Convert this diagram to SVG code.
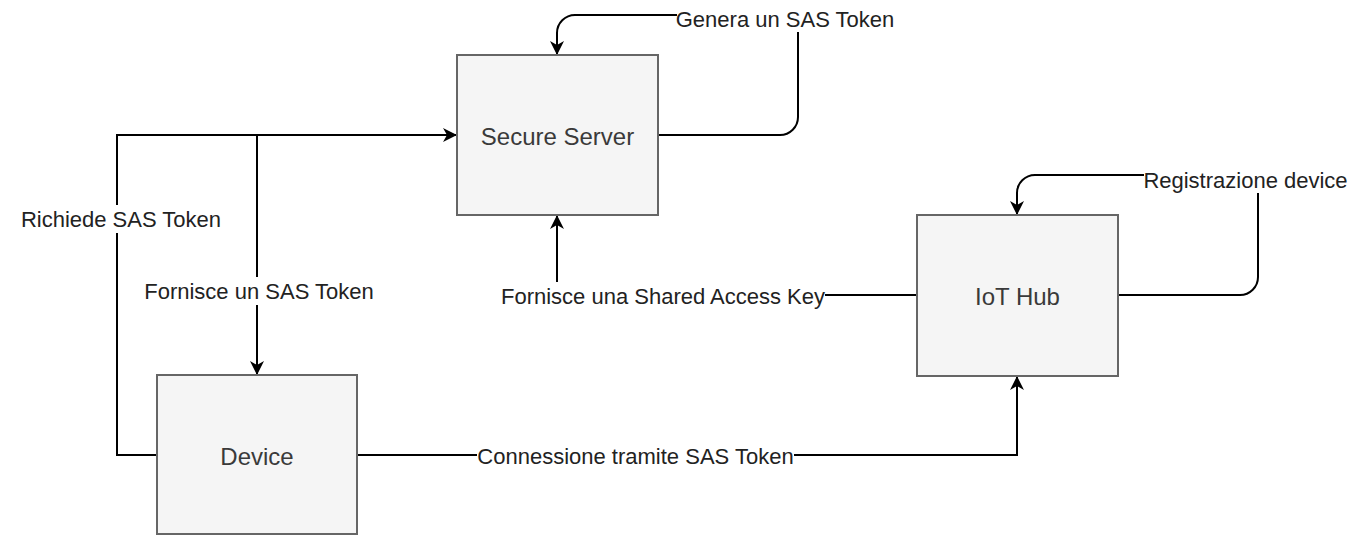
<svg xmlns="http://www.w3.org/2000/svg" width="1369" height="536" viewBox="0 0 1369 536">
  <style>
    .box { fill: #f5f5f5; stroke: #666666; stroke-width: 2; }
    .node-label { font-family: "Liberation Sans", Arial, Helvetica, sans-serif; font-size: 24px; fill: #3a3a3a; text-anchor: middle; dominant-baseline: central; }
    .edge { fill: none; stroke: #000000; stroke-width: 2; marker-end: url(#arrow); }
    .edge-label { font-family: "Liberation Sans", Arial, Helvetica, sans-serif; font-size: 22px; fill: #222222; text-anchor: middle; dominant-baseline: central; }
    .label-bg { fill: #ffffff; stroke: none; }
  </style>
  <defs>
    <marker id="arrow" markerUnits="userSpaceOnUse" markerWidth="16" markerHeight="16" refX="14" refY="7" orient="auto" viewBox="0 0 16 14">
      <path d="M0,0 L14,7 L0,14 L4,7 Z" fill="#000000"/>
    </marker>
  </defs>
  <rect width="1369" height="536" fill="#ffffff"/>

  <g id="connectors">
    <!-- Secure Server self-loop -->
    <path class="edge" d="M658,135 H780 A18,18 0 0 0 798,117 V15 H575 A18,18 0 0 0 557,33 V55"/>
    <!-- IoT Hub self-loop -->
    <path class="edge" d="M1118,295 H1240 A18,18 0 0 0 1258,277 V175 H1035 A18,18 0 0 0 1017,193 V215"/>
    <!-- Device to Secure Server -->
    <path class="edge" d="M157,455 H117 V135 H457"/>
    <!-- Secure Server to Device -->
    <path class="edge" d="M457,135 H257 V375"/>
    <!-- IoT Hub to Secure Server -->
    <path class="edge" d="M917,295 H557 V215"/>
    <!-- Device to IoT Hub -->
    <path class="edge" d="M357,455 H1017 V376"/>

    <g id="label-genera">
      <rect class="label-bg" x="677" y="5" width="216" height="27"/>
      <text class="edge-label" x="785" y="19">Genera un SAS Token</text>
    </g>
    <g id="label-registrazione">
      <rect class="label-bg" x="1144" y="163" width="203" height="30"/>
      <text class="edge-label" x="1245.5" y="180">Registrazione device</text>
    </g>
    <g id="label-richiede">
      <rect class="label-bg" x="21" y="205" width="200" height="28"/>
      <text class="edge-label" x="121" y="219">Richiede SAS Token</text>
    </g>
    <g id="label-fornisce-token">
      <rect class="label-bg" x="145" y="277" width="228" height="28"/>
      <text class="edge-label" x="259" y="291">Fornisce un SAS Token</text>
    </g>
    <g id="label-fornisce-key">
      <rect class="label-bg" x="501" y="282" width="324" height="27"/>
      <text class="edge-label" x="663" y="296">Fornisce una Shared Access Key</text>
    </g>
    <g id="label-connessione">
      <rect class="label-bg" x="477" y="442" width="317" height="28"/>
      <text class="edge-label" x="635.5" y="456">Connessione tramite SAS Token</text>
    </g>
  </g>

  <g id="node-secure-server">
    <rect class="box" x="457" y="55" width="201" height="160"/>
    <text class="node-label" x="557.5" y="136">Secure Server</text>
  </g>
  <g id="node-iot-hub">
    <rect class="box" x="917" y="215" width="201" height="161"/>
    <text class="node-label" x="1017.5" y="296">IoT Hub</text>
  </g>
  <g id="node-device">
    <rect class="box" x="157" y="375" width="200" height="159"/>
    <text class="node-label" x="257" y="456">Device</text>
  </g>
</svg>
